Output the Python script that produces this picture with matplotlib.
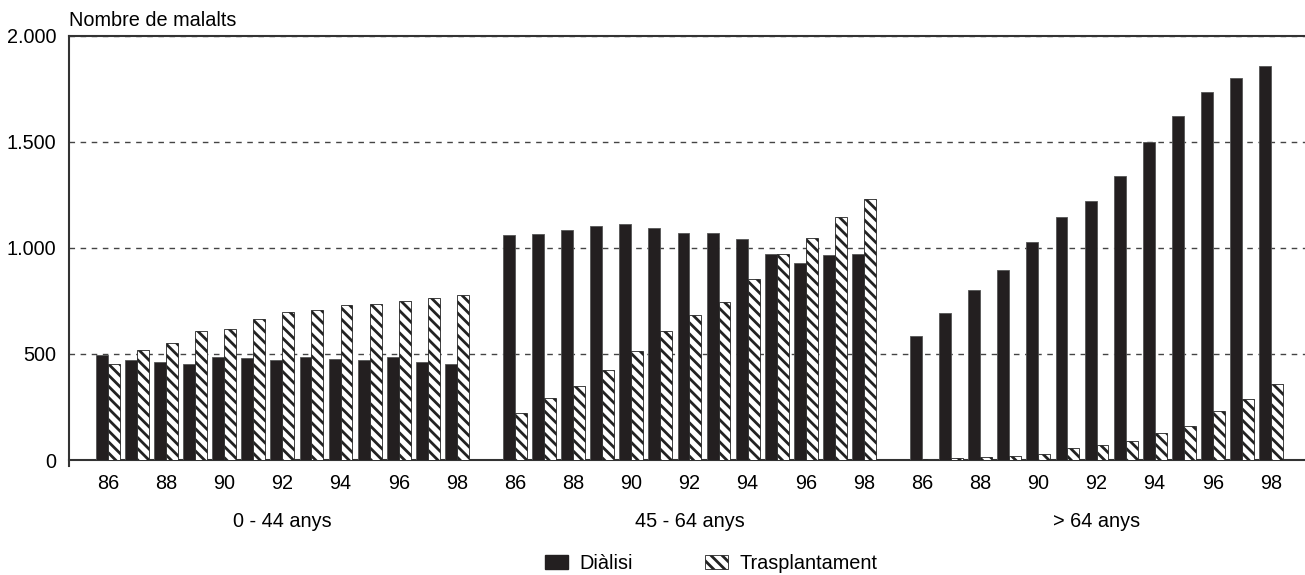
import numpy as np
import matplotlib
matplotlib.use("Agg")
import matplotlib.pyplot as plt
import matplotlib.transforms as mtransforms
from matplotlib.patches import Patch
from matplotlib.ticker import FuncFormatter

# data
years = [86, 87, 88, 89, 90, 91, 92, 93, 94, 95, 96, 97, 98]
groups = ["0 - 44 anys", "45 - 64 anys", "> 64 anys"]

dialisi_0_44 = [495, 470, 460, 455, 484, 481, 470, 487, 476, 470, 487, 463, 454]
trasp_0_44 = [454, 517, 553, 608, 617, 665, 700, 708, 730, 737, 748, 762, 777]

dialisi_45_64 = [1062, 1065, 1087, 1103, 1113, 1092, 1072, 1070, 1043, 971, 930, 968, 971]
trasp_45_64 = [224, 293, 348, 425, 515, 608, 685, 745, 856, 971, 1046, 1144, 1232]

dialisi_64 = [585, 695, 802, 894, 1026, 1146, 1221, 1340, 1502, 1622, 1734, 1800, 1857]
trasp_64 = [6, 11, 16, 19, 30, 57, 69, 91, 126, 161, 233, 288, 359]

dialisi = [dialisi_0_44, dialisi_45_64, dialisi_64]
trasp = [trasp_0_44, trasp_45_64, trasp_64]

plt.rcParams['font.family'] = ['Liberation Sans', 'DejaVu Sans']
plt.rcParams['font.size'] = 14.3
plt.rcParams['hatch.linewidth'] = 2.0
plt.rcParams['hatch.color'] = 'black'

dark = "#231f20"
fig = plt.figure(figsize=(13.05, 5.75), dpi=100)
ax = fig.add_axes([69 / 1305, 0.2, 1 - 69 / 1305, 0.7374])

w = 0.41
group_step = 14
tick_pos = []
tick_lab = []
for g in range(3):
    x = np.arange(len(years)) + g * group_step
    ax.bar(x - w / 2, dialisi[g], w, color=dark, edgecolor="#555555", linewidth=0.6, zorder=3)
    ax.bar(x + w / 2, trasp[g], w, color="white", edgecolor="#222222", linewidth=0.6,
           hatch="\\\\\\", zorder=3)
    for i, yr in enumerate(years):
        if yr % 2 == 0:
            tick_pos.append(x[i])
            tick_lab.append(str(yr))
    trans = mtransforms.blended_transform_factory(ax.transData, ax.transAxes)
    ax.text(x.mean(), -0.146, groups[g], ha="center", va="center", transform=trans)

ax.set_xticks(tick_pos)
ax.set_xticklabels(tick_lab)
ax.set_xlim(-1.34, 41.17)
ax.set_ylim(0, 2000)
ax.set_yticks([0, 500, 1000, 1500, 2000])
ax.yaxis.set_major_formatter(FuncFormatter(lambda v, p: f"{int(v):,}".replace(",", ".")))
ax.tick_params(axis="both", length=0)
ax.tick_params(axis="y", pad=9)
ax.tick_params(axis="x", pad=10)

ax.yaxis.grid(True, linestyle=(0, (4, 4)), color="#444444", linewidth=1)
ax.set_axisbelow(True)
for s in ["left", "bottom", "top"]:
    ax.spines[s].set_color("#333333")
    ax.spines[s].set_linewidth(1.5)
ax.spines["right"].set_visible(False)
# left axis line runs a little below the baseline
ax.spines["left"].set_bounds(-30, 2000)
ax.set_ylim(0, 2000)
ax.spines["left"].set_clip_on(False)

ax.text(0, 1.036, "Nombre de malalts", transform=ax.transAxes, ha="left", va="center")

handles = [Patch(facecolor=dark, edgecolor=dark, label="Diàlisi"),
           Patch(facecolor="white", edgecolor="#222222", hatch="\\\\\\", linewidth=0.6,
                 label="Trasplantament")]
fig.legend(handles=handles, loc="center", bbox_to_anchor=(0.545, 0.02), ncol=2,
           frameon=False, handlelength=1.16, handleheight=0.65, handletextpad=0.6,
           columnspacing=3.6, borderpad=0)

fig.savefig("out.png", dpi=100)
